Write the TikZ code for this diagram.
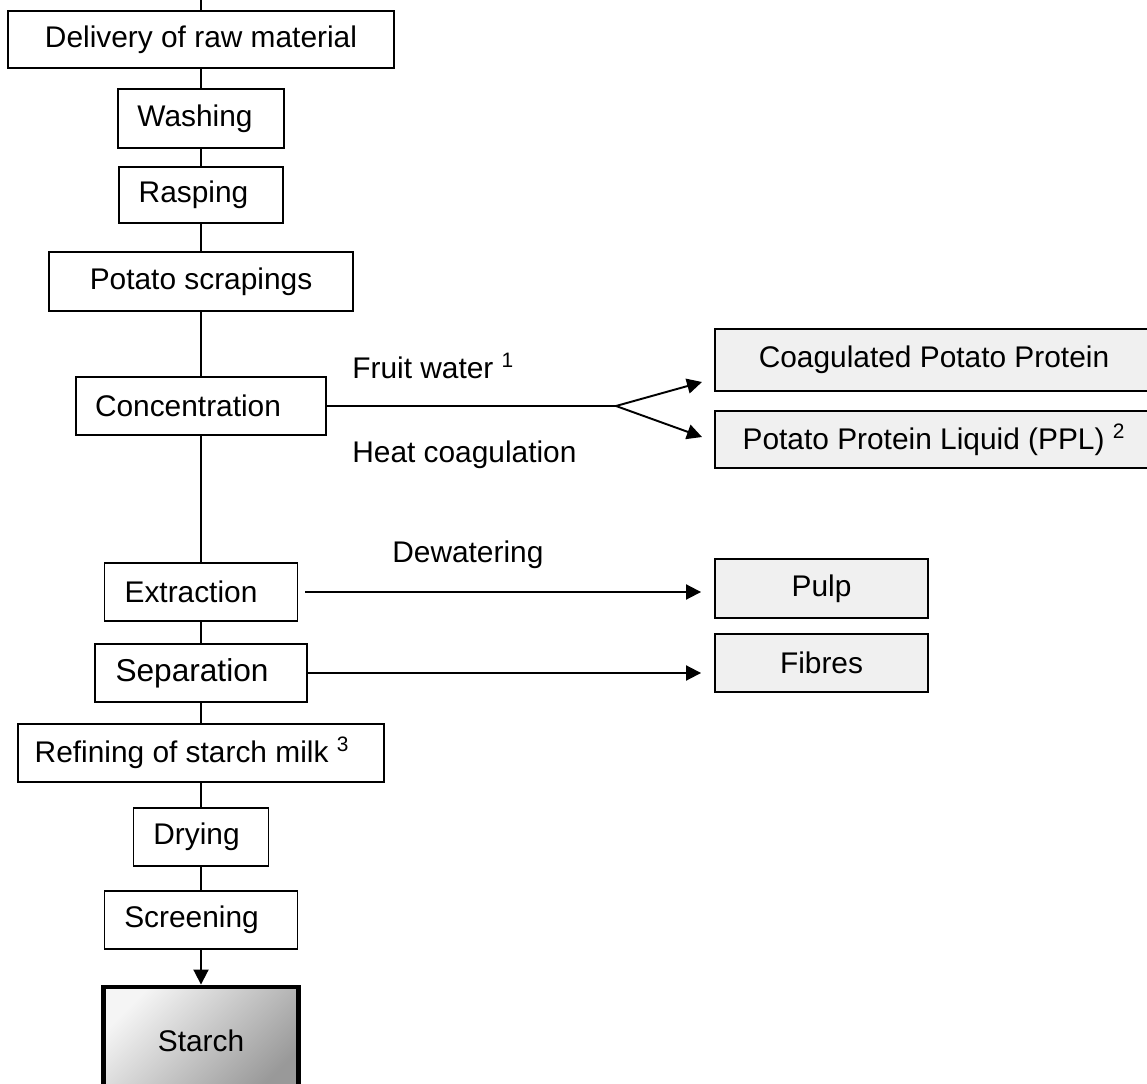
\documentclass[tikz,border=0pt]{standalone}
\usepackage{fontspec}
\setmainfont{Liberation Sans}
\usetikzlibrary{arrows.meta, calc}

\begin{document}
\begin{tikzpicture}[
    x=0.02cm, y=-0.02cm,
    >={Triangle[length=0.3cm, width=0.3cm]},
    box/.style={draw, line width=1.1pt, inner sep=0pt, font=\fontsize{17}{19}\selectfont},
    prod/.style={box, fill=gray!12},
    final/.style={box, line width=2.8pt, top color=gray!8, bottom color=gray!80, shading angle=45},
    link/.style={line width=1.1pt},
    flow/.style={->, line width=1.1pt},
    lbl/.style={font=\fontsize{17}{19}\selectfont, inner sep=0pt, anchor=base west},
]
\clip (0,0) rectangle (1147,1084);

% === MAIN LINE ===
\coordinate (top) at (201,0);
\node[box, minimum width=7.74cm, minimum height=1.14cm] (deliv) at (201,39.5) {Delivery of raw material};
\node[box, minimum width=3.32cm, minimum height=1.18cm] (wash) at (201,118.5) {Washing\hspace*{0.24cm}};
\node[box, minimum width=3.28cm, minimum height=1.12cm] (rasp) at (201,195) {Rasping\hspace*{0.3cm}};
\node[box, minimum width=6.08cm, minimum height=1.18cm] (scrap) at (201,281.5) {Potato scrapings};
\node[box, minimum width=5cm, minimum height=1.16cm] (conc) at (201,406) {Concentration\hspace*{0.52cm}};
\node[box, minimum width=3.86cm, minimum height=1.16cm] (extr) at (201,592) {Extraction\hspace*{0.4cm}};
\node[box, minimum width=4.24cm, minimum height=1.16cm, font=\fontsize{18}{20}\selectfont] (sep) at (201,673) {Separation\hspace*{0.36cm}};
\node[box, minimum width=7.32cm, minimum height=1.16cm] (refin) at (201,753) {Refining of starch milk \textsuperscript{3}\hspace*{0.36cm}};
\node[box, minimum width=2.7cm, minimum height=1.16cm] (dry) at (201,837) {Drying\hspace*{0.18cm}};
\node[box, minimum width=3.86cm, minimum height=1.16cm] (scr) at (201,920) {Screening\hspace*{0.38cm}};
\node[final, minimum width=3.9cm, minimum height=2.16cm] (starch) at (201,1041) {Starch};

\draw[link] (top) -- (deliv);
\draw[link] (deliv) -- (wash);
\draw[link] (wash) -- (rasp);
\draw[link] (rasp) -- (scrap);
\draw[link] (scrap) -- (conc);
\draw[link] (conc) -- (extr);
\draw[link] (extr) -- (sep);
\draw[link] (sep) -- (refin);
\draw[link] (refin) -- (dry);
\draw[link] (dry) -- (scr);
\draw[flow] (scr) -- (starch);

% === BY-PRODUCTS ===
\node[prod, minimum width=8.76cm, minimum height=1.24cm] (coag) at (934,360) {Coagulated Potato Protein};
\node[prod, minimum width=8.76cm, minimum height=1.14cm] (ppl) at (934,439.5) {Potato Protein Liquid (PPL) \textsuperscript{2}};
\node[prod, minimum width=4.26cm, minimum height=1.18cm] (pulp) at (821.5,588.5) {Pulp};
\node[prod, minimum width=4.26cm, minimum height=1.16cm] (fib) at (821.5,663) {Fibres};

% fruit water split
\coordinate (branch) at (616,406);
\coordinate (tipcoag) at (702,382);
\coordinate (tipppl) at (702,437);
\draw[link] (conc) -- (branch);
\draw[flow] (branch) -- (tipcoag);
\draw[flow] (branch) -- (tipppl);

\draw[flow, shorten <=0.14cm, shorten >=0.26cm] (extr.east) -- (extr.east -| pulp.west);
\draw[flow, shorten >=0.26cm] (sep.east) -- (sep.east -| fib.west);

% === LABELS ===
\node[lbl] (fw) at (352,379) {Fruit water \textsuperscript{1}};
\node[lbl] (heat) at (352,463) {Heat coagulation};
\node[lbl] (dew) at (392,563) {Dewatering};

\end{tikzpicture}
\end{document}
